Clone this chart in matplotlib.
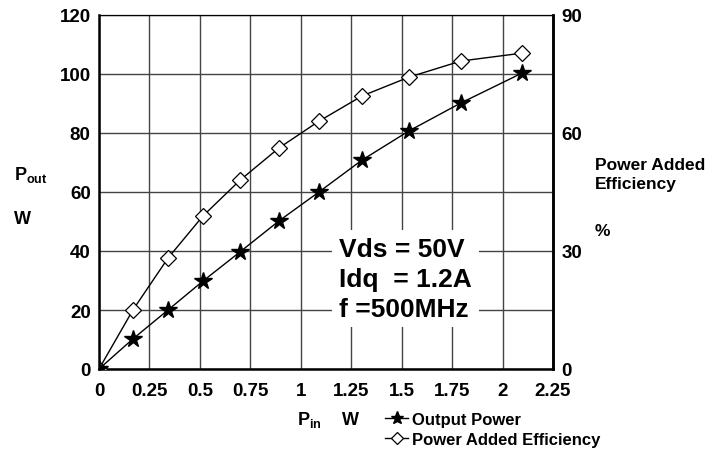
import matplotlib
matplotlib.use('Agg')
import matplotlib.pyplot as plt

# data
pin = [0, 0.168, 0.342, 0.515, 0.699, 0.892, 1.090, 1.303, 1.536, 1.794, 2.096]
pout = [0, 10.2, 20, 29.8, 39.7, 50.2, 60, 70.8, 80.7, 90.2, 100.3]
pae = [0, 15, 28.2, 38.9, 48, 56.2, 63, 69.4, 74.2, 78.3, 80.3]

x_ticks = [0, 0.25, 0.5, 0.75, 1, 1.25, 1.5, 1.75, 2, 2.25]
x_ticklabels = ['0', '0.25', '0.5', '0.75', '1', '1.25', '1.5', '1.75', '2', '2.25']
left_ticks = [0, 20, 40, 60, 80, 100, 120]
right_ticks = [0, 30, 60, 90]

plt.rcParams['font.family'] = ['Liberation Sans Narrow', 'Liberation Sans', 'DejaVu Sans']
plt.rcParams['font.weight'] = 'bold'
plt.rcParams['mathtext.default'] = 'regular'

fig = plt.figure(figsize=(7.2, 4.52), dpi=100)
ax = fig.add_axes([99/720, 1 - 370/452, 454/720, 354/452])

ax.set_xlim(0, 2.25)
ax.set_ylim(0, 120)
ax.set_xticks(x_ticks)
ax.set_xticklabels(x_ticklabels)
ax.set_yticks(left_ticks)
ax.grid(True, color='#444444', linewidth=1.0)
ax.set_axisbelow(True)
ax.tick_params(axis='both', length=0, labelsize=13.5)
ax.tick_params(axis='x', pad=9)
ax.tick_params(axis='y', pad=6)
for s in ['left', 'bottom', 'right']:
    ax.spines[s].set_linewidth(1.8)
ax.spines['top'].set_linewidth(0.8)

ax2 = ax.twinx()
ax2.set_ylim(0, 90)
ax2.set_yticks(right_ticks)
ax2.tick_params(axis='y', length=0, labelsize=13.5, pad=6)
ax2.spines['right'].set_linewidth(1.8)
ax2.spines['top'].set_linewidth(0.8)
ax2.spines['left'].set_visible(False)
ax2.spines['bottom'].set_visible(False)

l2, = ax2.plot(pin, pae, color='black', linewidth=1.0, marker='D', markersize=8,
               markerfacecolor='white', markeredgecolor='black', markeredgewidth=0.9,
               label='Power Added Efficiency', zorder=3)
l1, = ax2.plot(pin, [v * 90 / 120 for v in pout], color='black', linewidth=1.0,
               marker='*', markersize=13, markerfacecolor='black',
               markeredgecolor='black', label='Output Power', zorder=4)

ax2.text(1.19, 22.9, 'Vds = 50V\nIdq  = 1.2A\nf =500MHz', fontsize=19,
         fontweight='bold', va='center', ha='left', linespacing=1.3,
         bbox=dict(facecolor='white', edgecolor='none', pad=5), zorder=5)

# axis labels
fig.text(14/720, 1 - 180/452, r'$\mathregular{P_{out}}$', fontsize=13, fontweight='bold')
fig.text(14/720, 1 - 224/452, 'W', fontsize=13, fontweight='bold')
fig.text(595/720, 1 - 189/452, 'Power Added\nEfficiency', fontsize=12.5,
         fontweight='bold', linespacing=1.3)
fig.text(595/720, 1 - 236/452, '%', fontsize=12.5, fontweight='bold')
fig.text(297/720, 1 - 425/452, r'$\mathregular{P_{in}}$', fontsize=13, fontweight='bold')
fig.text(342/720, 1 - 425/452, 'W', fontsize=13, fontweight='bold')

fig.legend(handles=[l1, l2], loc='upper left',
           bbox_to_anchor=(385/720, 1 - 413/452), bbox_transform=fig.transFigure,
           frameon=False, fontsize=12, handlelength=1.4, handletextpad=0.2,
           borderpad=0, borderaxespad=0, labelspacing=0.3, markerscale=0.75)

fig.savefig('out.png', dpi=100)
